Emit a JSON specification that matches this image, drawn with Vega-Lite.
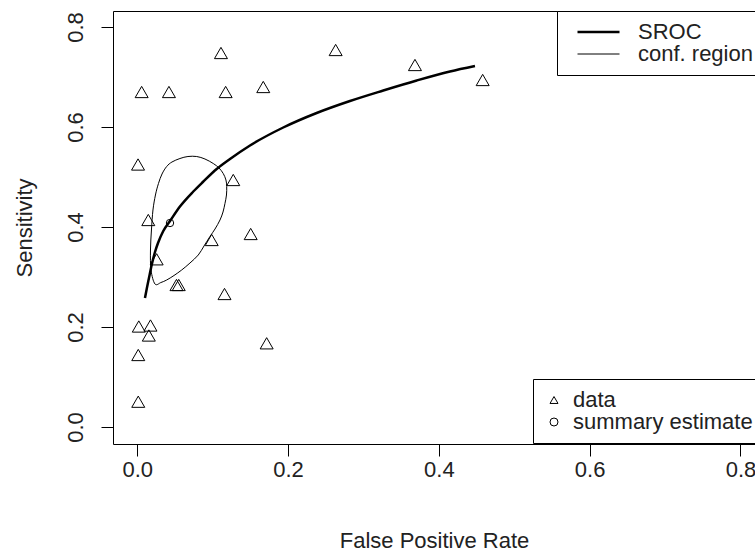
{
  "$schema": "https://vega.github.io/schema/vega-lite/v6.json",
  "width": 642,
  "height": 433,
  "autosize": {"type": "none"},
  "padding": {"left": 113, "top": 11, "right": 0, "bottom": 108},
  "background": "white",
  "config": {
    "view": {"stroke": null},
    "font": "Liberation Sans",
    "axis": {
      "grid": false,
      "domainColor": "black",
      "domainWidth": 1,
      "tickColor": "black",
      "tickWidth": 1,
      "labelColor": "#222222",
      "labelFont": "Liberation Sans",
      "labelFontSize": 22,
      "titleFont": "Liberation Sans",
      "titleFontSize": 22,
      "titleFontWeight": "normal",
      "titleColor": "#222222",
      "labelFlush": false,
      "labelOverlap": false
    },
    "legend": {
      "labelFont": "Liberation Sans",
      "labelFontSize": 22,
      "labelColor": "#222222",
      "labelLimit": 0
    }
  },
  "datasets": {
    "sroc": [
      {"i": 1, "fpr": 0.0102, "sens": 0.258, "series": "SROC"},
      {"i": 2, "fpr": 0.0129, "sens": 0.279, "series": "SROC"},
      {"i": 3, "fpr": 0.0155, "sens": 0.298, "series": "SROC"},
      {"i": 4, "fpr": 0.0191, "sens": 0.324, "series": "SROC"},
      {"i": 5, "fpr": 0.0235, "sens": 0.350, "series": "SROC"},
      {"i": 6, "fpr": 0.0275, "sens": 0.368, "series": "SROC"},
      {"i": 7, "fpr": 0.0345, "sens": 0.392, "series": "SROC"},
      {"i": 8, "fpr": 0.0434, "sens": 0.412, "series": "SROC"},
      {"i": 9, "fpr": 0.0566, "sens": 0.441, "series": "SROC"},
      {"i": 10, "fpr": 0.0743, "sens": 0.471, "series": "SROC"},
      {"i": 11, "fpr": 0.087, "sens": 0.490, "series": "SROC"},
      {"i": 12, "fpr": 0.1053, "sens": 0.516, "series": "SROC"},
      {"i": 13, "fpr": 0.123, "sens": 0.536, "series": "SROC"},
      {"i": 14, "fpr": 0.1495, "sens": 0.563, "series": "SROC"},
      {"i": 15, "fpr": 0.1936, "sens": 0.599, "series": "SROC"},
      {"i": 16, "fpr": 0.2379, "sens": 0.628, "series": "SROC"},
      {"i": 17, "fpr": 0.2821, "sens": 0.652, "series": "SROC"},
      {"i": 18, "fpr": 0.3263, "sens": 0.673, "series": "SROC"},
      {"i": 19, "fpr": 0.3706, "sens": 0.693, "series": "SROC"},
      {"i": 20, "fpr": 0.4147, "sens": 0.711, "series": "SROC"},
      {"i": 21, "fpr": 0.4479, "sens": 0.722, "series": "SROC"}
    ],
    "region": [
      {"i": 1, "fpr": 0.0235, "sens": 0.286, "series": "conf. region"},
      {"i": 2, "fpr": 0.0182, "sens": 0.314, "series": "conf. region"},
      {"i": 3, "fpr": 0.0175, "sens": 0.354, "series": "conf. region"},
      {"i": 4, "fpr": 0.0188, "sens": 0.394, "series": "conf. region"},
      {"i": 5, "fpr": 0.0208, "sens": 0.434, "series": "conf. region"},
      {"i": 6, "fpr": 0.0241, "sens": 0.464, "series": "conf. region"},
      {"i": 7, "fpr": 0.0281, "sens": 0.487, "series": "conf. region"},
      {"i": 8, "fpr": 0.0328, "sens": 0.506, "series": "conf. region"},
      {"i": 9, "fpr": 0.039, "sens": 0.521, "series": "conf. region"},
      {"i": 10, "fpr": 0.046, "sens": 0.530, "series": "conf. region"},
      {"i": 11, "fpr": 0.0566, "sens": 0.537, "series": "conf. region"},
      {"i": 12, "fpr": 0.0672, "sens": 0.541, "series": "conf. region"},
      {"i": 13, "fpr": 0.0788, "sens": 0.541, "series": "conf. region"},
      {"i": 14, "fpr": 0.0898, "sens": 0.536, "series": "conf. region"},
      {"i": 15, "fpr": 0.1008, "sens": 0.527, "series": "conf. region"},
      {"i": 16, "fpr": 0.1084, "sens": 0.518, "series": "conf. region"},
      {"i": 17, "fpr": 0.114, "sens": 0.507, "series": "conf. region"},
      {"i": 18, "fpr": 0.1176, "sens": 0.494, "series": "conf. region"},
      {"i": 19, "fpr": 0.1186, "sens": 0.481, "series": "conf. region"},
      {"i": 20, "fpr": 0.1183, "sens": 0.464, "series": "conf. region"},
      {"i": 21, "fpr": 0.1163, "sens": 0.447, "series": "conf. region"},
      {"i": 22, "fpr": 0.1137, "sens": 0.430, "series": "conf. region"},
      {"i": 23, "fpr": 0.1097, "sens": 0.414, "series": "conf. region"},
      {"i": 24, "fpr": 0.1031, "sens": 0.396, "series": "conf. region"},
      {"i": 25, "fpr": 0.0964, "sens": 0.381, "series": "conf. region"},
      {"i": 26, "fpr": 0.0885, "sens": 0.362, "series": "conf. region"},
      {"i": 27, "fpr": 0.0809, "sens": 0.344, "series": "conf. region"},
      {"i": 28, "fpr": 0.0699, "sens": 0.328, "series": "conf. region"},
      {"i": 29, "fpr": 0.0589, "sens": 0.314, "series": "conf. region"},
      {"i": 30, "fpr": 0.0487, "sens": 0.303, "series": "conf. region"},
      {"i": 31, "fpr": 0.039, "sens": 0.294, "series": "conf. region"},
      {"i": 32, "fpr": 0.0314, "sens": 0.289, "series": "conf. region"}
    ],
    "points": [
      {"fpr": 0.0013, "sens": 0.0506, "kind": "data"},
      {"fpr": 0.0013, "sens": 0.144, "kind": "data"},
      {"fpr": 0.002, "sens": 0.201, "kind": "data"},
      {"fpr": 0.0175, "sens": 0.203, "kind": "data"},
      {"fpr": 0.0153, "sens": 0.183, "kind": "data"},
      {"fpr": 0.001, "sens": 0.525, "kind": "data"},
      {"fpr": 0.0058, "sens": 0.67, "kind": "data"},
      {"fpr": 0.042, "sens": 0.67, "kind": "data"},
      {"fpr": 0.111, "sens": 0.748, "kind": "data"},
      {"fpr": 0.1172, "sens": 0.67, "kind": "data"},
      {"fpr": 0.1671, "sens": 0.68, "kind": "data"},
      {"fpr": 0.2631, "sens": 0.754, "kind": "data"},
      {"fpr": 0.3683, "sens": 0.724, "kind": "data"},
      {"fpr": 0.4581, "sens": 0.694, "kind": "data"},
      {"fpr": 0.0146, "sens": 0.414, "kind": "data"},
      {"fpr": 0.1273, "sens": 0.494, "kind": "data"},
      {"fpr": 0.0257, "sens": 0.3354, "kind": "data"},
      {"fpr": 0.052, "sens": 0.284, "kind": "data"},
      {"fpr": 0.055, "sens": 0.284, "kind": "data"},
      {"fpr": 0.0987, "sens": 0.374, "kind": "data"},
      {"fpr": 0.1504, "sens": 0.386, "kind": "data"},
      {"fpr": 0.1157, "sens": 0.266, "kind": "data"},
      {"fpr": 0.1716, "sens": 0.1674, "kind": "data"}
    ],
    "summary": [
      {"fpr": 0.0434, "sens": 0.408, "kind": "summary estimate"}
    ]
  },
  "resolve": {"axis": {"x": "independent"}},
  "layer": [
    {
      "data": {"name": "sroc"},
      "mark": {"type": "line", "color": "black", "interpolate": "monotone", "strokeCap": "butt"},
      "encoding": {
        "x": {
          "field": "fpr", "type": "quantitative",
          "scale": {"domain": [-0.0322, 0.8193], "nice": false, "zero": false},
          "axis": {
            "orient": "bottom", "values": [0, 0.2, 0.4, 0.6, 0.8], "format": ".1f",
            "tickSize": 12, "labelPadding": 3, "title": "False Positive Rate", "titlePadding": 50
          }
        },
        "y": {
          "field": "sens", "type": "quantitative",
          "scale": {"domain": [-0.034, 0.832], "nice": false, "zero": false},
          "axis": {
            "orient": "left", "values": [0, 0.2, 0.4, 0.6, 0.8], "format": ".1f",
            "tickSize": 12, "labelAngle": -90, "labelPadding": 14, "title": "Sensitivity", "titlePadding": 28
          }
        },
        "order": {"field": "i", "type": "quantitative"},
        "strokeWidth": {
          "field": "series", "type": "nominal",
          "scale": {"domain": ["SROC", "conf. region"], "range": [2.5, 1]},
          "legend": {
            "orient": "none", "legendX": 444, "legendY": 0, "title": null,
            "padding": 10, "strokeColor": "black", "fillColor": "white", "cornerRadius": 0,
            "symbolType": "stroke", "symbolSize": 1764, "symbolOffset": 9, "symbolStrokeColor": "black",
            "labelOffset": 17, "clipHeight": 22, "rowPadding": 0
          }
        }
      }
    },
    {
      "data": {"name": "region"},
      "mark": {"type": "line", "color": "black", "interpolate": "cardinal-closed"},
      "encoding": {
        "x": {
          "field": "fpr", "type": "quantitative",
          "scale": {"domain": [-0.0322, 0.8193], "nice": false, "zero": false},
          "axis": {"orient": "top", "labels": false, "ticks": false, "title": null}
        },
        "y": {
          "field": "sens", "type": "quantitative",
          "scale": {"domain": [-0.034, 0.832], "nice": false, "zero": false},
          "axis": {
            "orient": "left", "values": [0, 0.2, 0.4, 0.6, 0.8], "format": ".1f",
            "tickSize": 12, "labelAngle": -90, "labelPadding": 14, "title": "Sensitivity", "titlePadding": 28
          }
        },
        "order": {"field": "i", "type": "quantitative"},
        "strokeWidth": {
          "field": "series", "type": "nominal",
          "scale": {"domain": ["SROC", "conf. region"], "range": [2.5, 1]},
          "legend": {
            "orient": "none", "legendX": 444, "legendY": 0, "title": null,
            "padding": 10, "strokeColor": "black", "fillColor": "white", "cornerRadius": 0,
            "symbolType": "stroke", "symbolSize": 1764, "symbolOffset": 9, "symbolStrokeColor": "black",
            "labelOffset": 17, "clipHeight": 22, "rowPadding": 0
          }
        }
      }
    },
    {
      "data": {"name": "points"},
      "mark": {"type": "point", "filled": false, "color": "black", "strokeWidth": 1, "opacity": 1, "size": 169},
      "encoding": {
        "x": {
          "field": "fpr", "type": "quantitative",
          "scale": {"domain": [-0.0322, 0.8193], "nice": false, "zero": false},
          "axis": null
        },
        "y": {
          "field": "sens", "type": "quantitative",
          "scale": {"domain": [-0.034, 0.832], "nice": false, "zero": false},
          "axis": {
            "orient": "left", "values": [0, 0.2, 0.4, 0.6, 0.8], "format": ".1f",
            "tickSize": 12, "labelAngle": -90, "labelPadding": 14, "title": "Sensitivity", "titlePadding": 28
          }
        },
        "shape": {
          "field": "kind", "type": "nominal",
          "scale": {"domain": ["data", "summary estimate"], "range": ["triangle-up", "circle"]},
          "legend": {
            "orient": "none", "legendX": 420, "legendY": 368, "title": null,
            "padding": 10, "strokeColor": "black", "fillColor": "white", "cornerRadius": 0,
            "symbolSize": 64, "symbolOffset": 0, "symbolStrokeColor": "black", "symbolStrokeWidth": 1,
            "symbolFillColor": "transparent", "labelOffset": 8, "clipHeight": 22, "rowPadding": 0
          }
        }
      }
    },
    {
      "data": {"name": "summary"},
      "mark": {"type": "point", "filled": false, "color": "black", "strokeWidth": 1, "opacity": 1, "size": 55},
      "encoding": {
        "x": {
          "field": "fpr", "type": "quantitative",
          "scale": {"domain": [-0.0322, 0.8193], "nice": false, "zero": false},
          "axis": null
        },
        "y": {
          "field": "sens", "type": "quantitative",
          "scale": {"domain": [-0.034, 0.832], "nice": false, "zero": false},
          "axis": {
            "orient": "left", "values": [0, 0.2, 0.4, 0.6, 0.8], "format": ".1f",
            "tickSize": 12, "labelAngle": -90, "labelPadding": 14, "title": "Sensitivity", "titlePadding": 28
          }
        },
        "shape": {
          "field": "kind", "type": "nominal",
          "scale": {"domain": ["data", "summary estimate"], "range": ["triangle-up", "circle"]},
          "legend": {
            "orient": "none", "legendX": 420, "legendY": 368, "title": null,
            "padding": 10, "strokeColor": "black", "fillColor": "white", "cornerRadius": 0,
            "symbolSize": 64, "symbolOffset": 0, "symbolStrokeColor": "black", "symbolStrokeWidth": 1,
            "symbolFillColor": "transparent", "labelOffset": 8, "clipHeight": 22, "rowPadding": 0
          }
        }
      }
    }
  ]
}
